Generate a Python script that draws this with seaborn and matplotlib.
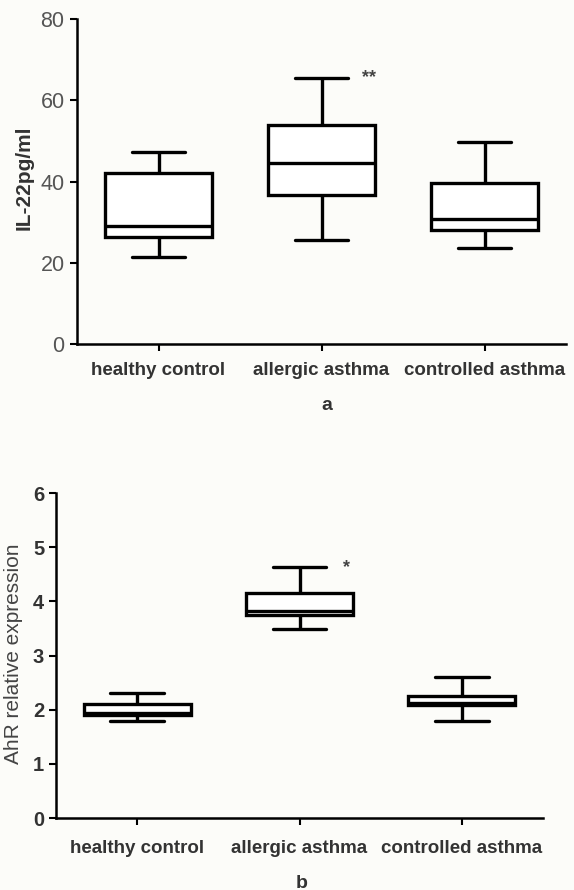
import numpy as np
import pandas as pd
import matplotlib
matplotlib.use('Agg')
import matplotlib.pyplot as plt
import seaborn as sns

groups = ['healthy control', 'allergic asthma', 'controlled asthma']

# panel a: IL-22 (pg/ml), five-number summaries
il22_min = [21.4, 25.6, 23.7]
il22_q1 = [26.4, 36.7, 28.0]
il22_med = [29.0, 44.6, 30.8]
il22_q3 = [42.1, 53.9, 39.6]
il22_max = [47.3, 65.5, 49.7]

# panel b: AhR relative expression
ahr_min = [1.80, 3.49, 1.79]
ahr_q1 = [1.90, 3.75, 2.08]
ahr_med = [1.93, 3.82, 2.12]
ahr_q3 = [2.10, 4.15, 2.25]
ahr_max = [2.30, 4.63, 2.60]

a_ticks = [0, 20, 40, 60, 80]
b_ticks = [0, 1, 2, 3, 4, 5, 6]


def long_form(mins, q1s, meds, q3s, maxs):
    rows = []
    for g, a, b, c, d, e in zip(groups, mins, q1s, meds, q3s, maxs):
        for v in (a, b, c, d, e):
            rows.append({'group': g, 'value': v})
    return pd.DataFrame(rows)


df_a = long_form(il22_min, il22_q1, il22_med, il22_q3, il22_max)
df_b = long_form(ahr_min, ahr_q1, ahr_med, ahr_q3, ahr_max)

sns.set_style('ticks')
plt.rcParams['font.family'] = ['Liberation Sans', 'DejaVu Sans']

bg = '#fcfcf9'
txt = '#333333'
fig = plt.figure(figsize=(5.74, 8.90), dpi=100, facecolor=bg)
ax_a = fig.add_axes([77 / 574, 1 - 344 / 890, 489 / 574, 325 / 890])
ax_b = fig.add_axes([56 / 574, 1 - 818 / 890, 487 / 574, 325 / 890])

box_kw = dict(x='group', y='value', order=groups, color='white',
              linecolor='black', linewidth=2.4, width=0.66,
              whis=(0, 100), fliersize=0)

for ax, df, ticks in [(ax_a, df_a, a_ticks), (ax_b, df_b, b_ticks)]:
    sns.boxplot(data=df, ax=ax, **box_kw)
    ax.set_facecolor(bg)
    ax.set_xlim(-0.5, 2.5)
    ax.set_ylim(ticks[0], ticks[-1])
    ax.set_yticks(ticks)
    sns.despine(ax=ax)
    for s in ['left', 'bottom']:
        ax.spines[s].set_linewidth(1.8)
        ax.spines[s].set_color('black')
    ax.tick_params(axis='both', length=5, width=1.5, color='black')
    ax.set_xlabel('')
    for lab in ax.get_xticklabels():
        lab.set_fontsize(13.5)
        lab.set_fontweight('bold')
        lab.set_color(txt)

ax_a.tick_params(axis='x', pad=8)
ax_b.tick_params(axis='x', pad=11)
ax_a.tick_params(axis='y', pad=4)
for lab in ax_a.get_yticklabels():
    lab.set_fontsize(15.5)
    lab.set_color('#555555')
for lab in ax_b.get_yticklabels():
    lab.set_fontsize(14.5)
    lab.set_fontweight('bold')
    lab.set_color(txt)

ax_a.set_ylabel('IL-22pg/ml', fontsize=15, fontweight='bold', color=txt)
ax_a.yaxis.set_label_coords(-0.088, 0.512)
ax_b.set_ylabel('AhR relative expression', fontsize=15, color='#444444')
ax_b.yaxis.set_label_coords(-0.068, 0.506)

ax_a.text(1.29, il22_max[1], '**', fontsize=13, fontweight='bold',
          color='#444444', va='center', ha='center')
ax_b.text(1.29, ahr_max[1], '*', fontsize=13, fontweight='bold',
          color='#444444', va='center', ha='center')

fig.text(327 / 574, 1 - 405 / 890, 'a', fontsize=14, fontweight='bold',
         color=txt, ha='center', va='center')
fig.text(302 / 574, 1 - 883 / 890, 'b', fontsize=14, fontweight='bold',
         color=txt, ha='center', va='center')

fig.savefig('out.png', dpi=100, facecolor=bg)
